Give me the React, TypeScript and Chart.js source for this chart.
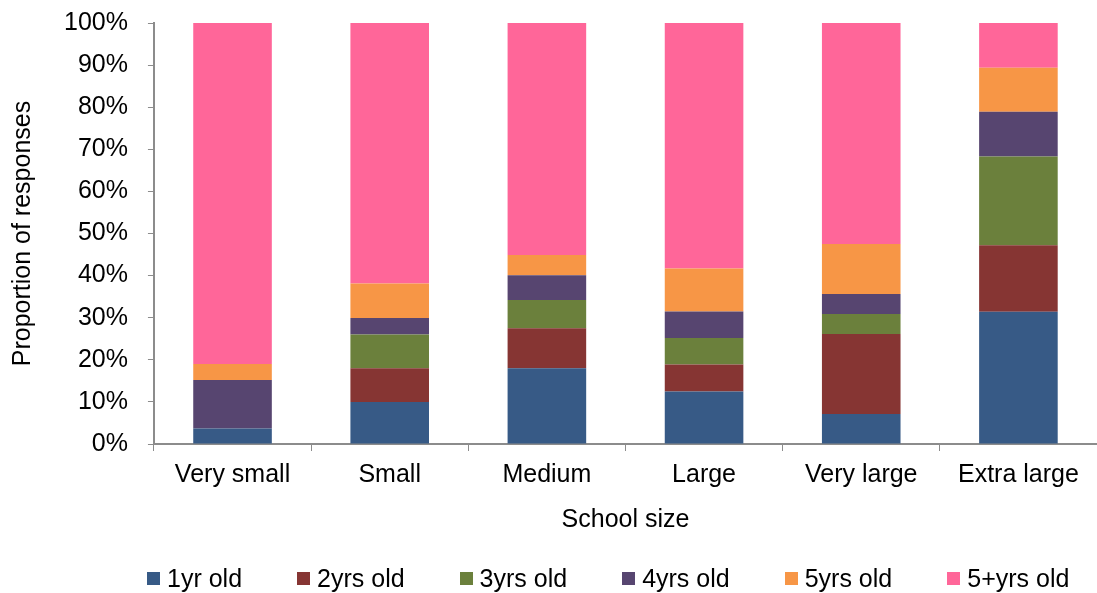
import React, { useEffect, useRef } from "react";
import { Chart, registerables } from "chart.js";

Chart.register(...registerables);

const categories = ["Very small", "Small", "Medium", "Large", "Very large", "Extra large"];
const oneYr = [3.7, 10.0, 18.0, 12.5, 7.1, 31.4];
const twoYrs = [0, 8.0, 9.5, 6.4, 19.0, 15.8];
const threeYrs = [0, 8.0, 6.7, 6.3, 4.8, 21.1];
const fourYrs = [11.5, 3.9, 5.9, 6.3, 4.7, 10.6];
const fiveYrs = [3.8, 8.2, 4.8, 10.2, 11.9, 10.5];
const fivePlusYrs = [81.0, 61.9, 55.1, 58.3, 52.5, 10.6];
const yTicks = [0, 10, 20, 30, 40, 50, 60, 70, 80, 90, 100];

const seriesNames = ["1yr old", "2yrs old", "3yrs old", "4yrs old", "5yrs old", "5+yrs old"];
const seriesColors = ["#375A86", "#863533", "#6B803C", "#574570", "#F79646", "#FF6699"];

const FONT_FAMILY = "'Liberation Sans', Arial, sans-serif";

export default function App() {
  const ref = useRef<HTMLCanvasElement>(null);
  useEffect(() => {
    if (!ref.current) return;
    const allData = [oneYr, twoYrs, threeYrs, fourYrs, fiveYrs, fivePlusYrs];
    const font = { family: FONT_FAMILY, size: 25 };
    const chart = new Chart(ref.current, {
      type: "bar",
      data: {
        labels: categories,
        datasets: allData.map((d, i) => ({
          label: seriesNames[i],
          data: d,
          backgroundColor: seriesColors[i],
          borderWidth: 0,
          barPercentage: 0.5,
          categoryPercentage: 1,
        })),
      },
      options: {
        animation: false,
        responsive: false,
        maintainAspectRatio: false,
        layout: { padding: { left: 8, right: 0, top: 23, bottom: 58 } },
        plugins: {
          tooltip: { enabled: false },
          legend: { display: false },
        },
        scales: {
          x: {
            stacked: true,
            grid: {
              display: true,
              drawOnChartArea: false,
              drawTicks: true,
              tickLength: 7,
              color: "#8C8C8C",
              offset: true,
            },
            border: { display: true, color: "#8C8C8C", width: 2 },
            ticks: { font, color: "#000", padding: 9, maxRotation: 0 },
            title: { display: true, text: "School size", font, color: "#000", padding: { top: 6, bottom: 0 } },
          },
          y: {
            stacked: true,
            min: 0,
            max: 100,
            afterBuildTicks: (axis: any) => {
              axis.ticks = yTicks.map((v) => ({ value: v }));
            },
            afterFit: (axis: any) => {
              axis.paddingTop = 0;
              axis.paddingBottom = 0;
            },
            grid: {
              display: true,
              drawOnChartArea: false,
              drawTicks: true,
              tickLength: 6,
              color: "#8C8C8C",
            },
            border: { display: true, color: "#8C8C8C", width: 2 },
            ticks: {
              font,
              color: "#000",
              padding: 20,
              callback: (v: any) => v + "%",
            },
            title: { display: true, text: "Proportion of responses", font, color: "#000", padding: { top: 0, bottom: 6 } },
          },
        },
      },
    });
    return () => chart.destroy();
  }, []);
  return (
    <div style={{ position: "fixed", left: 0, top: 0, width: 1097, height: 593, background: "#fff" }}>
      <canvas ref={ref} width={1097} height={593} style={{ display: "block" }} />
      <div
        style={{
          position: "absolute",
          left: 147,
          top: 563,
          height: 30,
          display: "flex",
          alignItems: "center",
          gap: 55,
          fontFamily: FONT_FAMILY,
          fontSize: 25,
          lineHeight: "30px",
          color: "#000",
          whiteSpace: "nowrap",
        }}
      >
        {seriesNames.map((n, i) => (
          <div key={n} style={{ display: "flex", alignItems: "center" }}>
            <span style={{ display: "inline-block", width: 13, height: 13, background: seriesColors[i], marginRight: 7 }} />
            <span>{n}</span>
          </div>
        ))}
      </div>
    </div>
  );
}
